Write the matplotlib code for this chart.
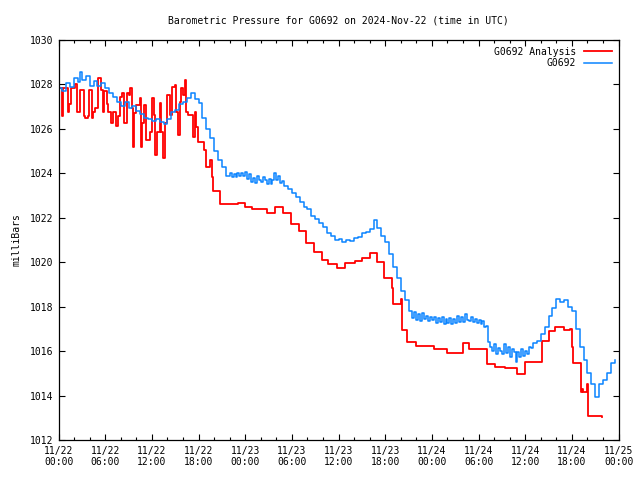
import matplotlib
matplotlib.use("Agg")
import matplotlib.pyplot as plt
from matplotlib.ticker import MultipleLocator

plt.rcParams['font.family'] = ['DejaVu Sans Mono']

# hours since 11/22 00:00 UTC
red_t = [0.09, 0.44, 0.52, 1.17, 1.38, 1.59, 2.15, 2.32, 2.75, 3.22, 3.44, 3.74, 3.95, 4.29, 4.46, 4.72,
         5.11, 5.45, 5.66, 5.88, 6.18, 6.39, 6.74, 6.95, 7.38, 7.59, 7.89, 8.15, 8.45, 8.75, 9.0,
         9.13, 9.43, 9.56, 9.69, 9.99, 10.42, 10.63, 10.72, 10.98, 11.28, 11.71, 12.01, 12.26, 12.43,
         12.69, 12.99, 13.2, 13.42, 13.63, 13.98, 14.28, 14.58, 14.92, 15.13, 15.35, 15.56, 15.78,
         15.99, 16.2, 16.42, 16.63, 17.27, 17.49, 17.7, 17.92, 18.69, 18.95, 19.46, 19.72, 19.85,
         20.75, 23.06, 23.96, 24.86, 26.79, 27.82, 28.84, 29.87, 30.9, 31.8, 32.83, 33.86, 34.6,
         35.78, 36.8, 38.1, 39.0, 40.02, 40.92, 41.82, 42.85, 42.97, 44.0, 44.13, 44.77, 45.93,
         48.25, 49.92, 51.98, 52.75, 55.06, 56.09, 57.37, 58.92, 59.95, 62.13, 63.03, 63.8, 64.96,
         65.73, 66.0, 66.12, 67.15, 67.28, 67.4, 67.92, 68.05, 69.85]
red_p = [1027.86, 1026.6, 1027.86, 1026.78, 1027.1, 1027.86, 1028.0, 1026.78, 1027.75, 1026.6, 1026.5,
         1026.6, 1027.75, 1026.5, 1026.78, 1026.96, 1028.28, 1027.75, 1026.78, 1027.7, 1027.1, 1026.78,
         1026.25, 1026.78, 1026.13, 1026.6, 1027.45, 1027.6, 1026.25, 1027.6, 1027.53,
         1027.83, 1026.93, 1025.2, 1026.7, 1027.08, 1027.38, 1025.2, 1026.25, 1027.08, 1025.5,
         1025.88, 1027.38, 1026.63, 1024.83, 1025.88, 1027.15, 1025.88, 1024.68, 1026.25, 1027.53,
         1026.63, 1027.9, 1027.98, 1026.78, 1025.73, 1027.23, 1027.83, 1027.53, 1028.2, 1026.78,
         1026.63, 1025.65, 1026.78, 1026.1, 1025.43, 1025.05, 1024.3, 1024.6, 1023.85, 1023.2,
         1022.6, 1022.65, 1022.5, 1022.4, 1022.2, 1022.5, 1022.2, 1021.7, 1021.4, 1020.85, 1020.45,
         1020.1, 1019.9, 1019.75, 1019.95, 1020.05, 1020.2, 1020.4, 1020.0, 1019.3, 1018.85, 1018.1,
         1018.35, 1016.95, 1016.4, 1016.25, 1016.1, 1015.9, 1016.35, 1016.1, 1015.4, 1015.3, 1015.25,
         1014.95, 1015.5, 1016.45, 1016.9, 1017.1, 1016.95, 1017.0, 1016.2, 1015.45, 1014.15, 1014.3,
         1014.15, 1014.5, 1013.1, 1013.05]

blue_t = [0.0, 0.5, 1.0, 1.5, 2.0, 2.5, 2.75, 3.0, 3.5, 4.0, 4.5, 5.0, 5.5, 6.0, 6.5, 7.0, 7.5, 8.0,
          8.5, 9.0, 9.5, 10.0, 10.5, 11.0, 11.5, 12.0, 12.5, 13.0, 13.5, 14.0, 14.5, 15.0, 15.5,
          16.0, 16.5, 17.0, 17.5, 18.0, 18.5, 19.0, 19.5, 20.0, 20.5, 21.0, 21.5,
          22.0, 22.25, 22.5, 22.75, 23.0, 23.25, 23.5, 23.75, 24.0, 24.25, 24.5, 24.75, 25.0, 25.25,
          25.5, 25.75, 26.0, 26.25, 26.5, 26.75, 27.0, 27.25, 27.5, 27.75, 28.0, 28.25, 28.5, 28.75,
          29.0, 29.5, 30.0, 30.5,
          31.0, 31.5, 32.0, 32.5, 33.0, 33.5, 34.0, 34.5, 35.0, 35.5, 36.0, 36.5, 37.0, 37.5, 38.0,
          38.5, 39.0, 39.5, 40.0, 40.5, 41.0, 41.5, 42.0, 42.5, 43.0, 43.5, 44.0, 44.5, 45.0,
          45.5, 45.75, 46.0, 46.25, 46.5, 46.75, 47.0, 47.25, 47.5, 47.75, 48.0, 48.25, 48.5, 48.75,
          49.0, 49.25, 49.5, 49.75, 50.0, 50.25, 50.5, 50.75, 51.0, 51.25, 51.5, 51.75, 52.0, 52.25,
          52.5, 52.75, 53.0, 53.25, 53.5, 53.75, 54.0, 54.25, 54.5, 54.75, 55.0, 55.25, 55.5, 55.75,
          56.0, 56.25, 56.5, 56.75, 57.0, 57.25, 57.5, 57.75, 58.0, 58.25, 58.5, 58.75, 59.0, 59.25,
          59.5, 59.75, 60.0, 60.25, 60.5, 60.75, 61.0,
          61.5, 62.0, 62.5, 63.0, 63.5, 64.0, 64.5, 65.0, 65.5, 66.0, 66.5, 67.0, 67.5,
          68.0, 68.5, 69.0, 69.5, 70.0, 70.5, 71.0, 71.5]
blue_p = [1027.85, 1027.7, 1028.05, 1027.9, 1028.3, 1028.1, 1028.55, 1028.2, 1028.4, 1027.95, 1028.15,
          1027.95, 1028.05, 1027.85, 1027.6, 1027.45, 1027.2, 1027.05, 1027.2, 1026.95, 1027.05,
          1026.8, 1026.65, 1026.5, 1026.45, 1026.35, 1026.45, 1026.3, 1026.2, 1026.45, 1026.75,
          1026.85, 1027.1, 1027.2, 1027.4, 1027.6, 1027.35, 1027.15, 1026.5, 1026.0, 1025.6, 1025.0,
          1024.6, 1024.3, 1023.9,
          1024.0, 1023.85, 1023.95, 1023.85, 1024.0, 1023.9, 1024.0, 1023.9, 1024.05, 1023.75,
          1023.95, 1023.6, 1023.8, 1023.55, 1023.9, 1023.7, 1023.6, 1023.85, 1023.7, 1023.5,
          1023.75, 1023.5, 1023.7, 1024.0, 1023.7, 1023.9, 1023.55, 1023.65,
          1023.45, 1023.3, 1023.1, 1022.95, 1022.7,
          1022.5, 1022.4, 1022.1, 1021.95, 1021.75, 1021.6, 1021.3, 1021.2, 1021.0, 1021.05, 1020.9,
          1021.0, 1020.95, 1021.1, 1021.15, 1021.3, 1021.35, 1021.5, 1021.9, 1021.55, 1021.2, 1020.9,
          1020.35, 1019.8, 1019.3, 1018.7, 1018.3, 1017.8,
          1017.5, 1017.75, 1017.4, 1017.65, 1017.35, 1017.7, 1017.45, 1017.6, 1017.35, 1017.55,
          1017.4, 1017.55, 1017.25, 1017.5, 1017.3, 1017.55, 1017.2, 1017.45, 1017.25, 1017.5,
          1017.2, 1017.45, 1017.25, 1017.6, 1017.3, 1017.55, 1017.3, 1017.65, 1017.4, 1017.35,
          1017.55, 1017.3, 1017.45, 1017.25, 1017.4, 1017.2, 1017.35, 1017.1, 1017.15, 1016.4,
          1016.2, 1016.0, 1016.3, 1015.85, 1016.15, 1016.0, 1015.85, 1016.3, 1015.9, 1016.2,
          1015.75, 1016.1, 1015.95, 1015.5, 1015.95, 1015.75, 1016.1, 1015.8, 1016.0, 1015.85,
          1016.2, 1016.15, 1016.35,
          1016.45, 1016.75, 1017.1, 1017.6, 1017.95, 1018.35, 1018.2, 1018.3, 1018.0, 1017.8,
          1017.0, 1016.2, 1015.6, 1015.0, 1014.5, 1013.95, 1014.5, 1014.7, 1015.0, 1015.45, 1015.6]

xtick_labels = ['11/22\n00:00', '11/22\n06:00', '11/22\n12:00', '11/22\n18:00',
                '11/23\n00:00', '11/23\n06:00', '11/23\n12:00', '11/23\n18:00',
                '11/24\n00:00', '11/24\n06:00', '11/24\n12:00', '11/24\n18:00',
                '11/25\n00:00']

fig = plt.figure(figsize=(6.4, 4.8), dpi=100)
ax = fig.add_axes([58.6/640, 40/480, 560/640, 400/480])

ax.plot(red_t, red_p, color='#ff0000', lw=1.3, drawstyle='steps-post', label='G0692 Analysis')
ax.plot(blue_t, blue_p, color='#0a84ff', lw=1.1, drawstyle='steps-post', label='G0692')

ax.set_xlim(0, 72)
ax.set_ylim(1012, 1030)
ax.set_xticks(range(0, 73, 6))
ax.set_xticklabels(xtick_labels)
ax.xaxis.set_minor_locator(MultipleLocator(2))
ax.set_yticks(range(1012, 1031, 2))

ax.tick_params(which='both', direction='in', top=True, right=True, labelsize=7, width=0.8)
ax.tick_params(which='major', length=4)
ax.tick_params(which='minor', length=2.5)
ax.tick_params(axis='x', pad=4)
for s in ax.spines.values():
    s.set_linewidth(0.9)

ax.set_ylabel('milliBars', fontsize=7, labelpad=6)
ax.set_title('Barometric Pressure for G0692 on 2024-Nov-22 (time in UTC)', fontsize=7, pad=12)

ax.legend(loc='upper right', frameon=False, fontsize=7, markerfirst=False,
          handlelength=2.9, borderaxespad=0.3, labelspacing=0.15, handletextpad=0.8)

fig.savefig('out.png', dpi=100)
